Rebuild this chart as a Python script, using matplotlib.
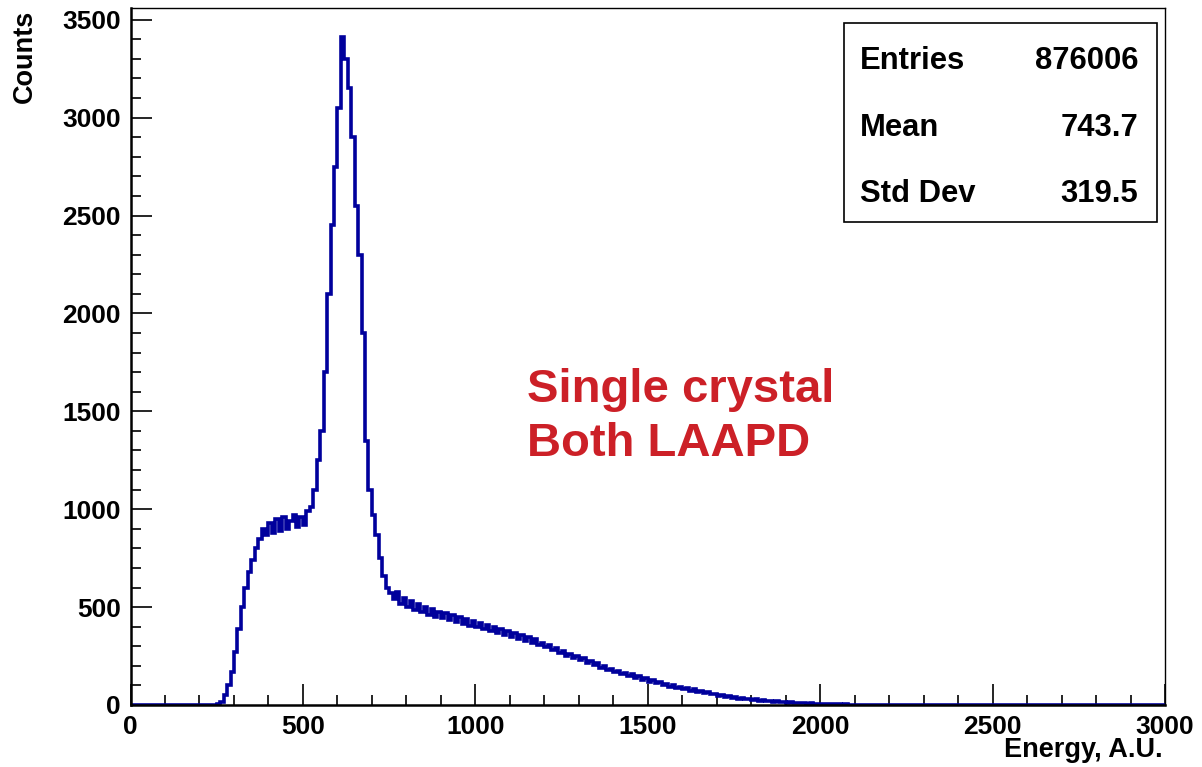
import matplotlib
matplotlib.use("Agg")
import matplotlib.pyplot as plt
import numpy as np
from matplotlib.ticker import MultipleLocator
from matplotlib.patches import Rectangle

plt.rcParams['font.family'] = ['Liberation Sans', 'DejaVu Sans']
plt.rcParams['font.weight'] = 'bold'

# ---------------- data ----------------
x_min, x_max, bin_width = 0, 3000, 10
counts = [
    0, 0, 0, 0, 0, 0, 0, 0, 0, 0,                       # 0-90
    0, 0, 0, 0, 0, 0, 0, 0, 0, 0,                       # 100-190
    0, 0, 0, 0, 1, 3, 15, 50, 100, 170,                 # 200-290
    270, 390, 500, 600, 680, 740, 800, 850, 900, 870,   # 300-390
    930, 880, 950, 890, 960, 900, 940, 970, 910, 960,   # 400-490
    920, 990, 1010, 1100, 1250, 1400, 1700, 2100, 2450, 2750,  # 500-590
    3050, 3410, 3300, 3150, 2900, 2550, 2300, 1900, 1350, 1100,  # 600-690
    970, 870, 750, 660, 600, 570, 540, 575, 515, 545,   # 700-790
    500, 530, 485, 515, 475, 500, 460, 490, 450, 475,   # 800-890
    445, 468, 432, 458, 422, 448, 412, 438, 402, 428,   # 900-990
    398, 418, 388, 408, 378, 398, 368, 388, 358, 378,   # 1000-1090
    348, 368, 338, 358, 328, 345, 318, 335, 308, 318,   # 1100-1190
    295, 305, 280, 290, 265, 278, 252, 262, 240, 250,   # 1200-1290
    228, 238, 215, 225, 202, 212, 190, 200, 180, 186,   # 1300-1390
    168, 176, 158, 164, 148, 156, 140, 146, 130, 136,   # 1400-1490
    120, 126, 112, 118, 102, 108, 94, 100, 88, 92,      # 1500-1590
    82, 86, 74, 80, 68, 72, 60, 66, 54, 58,             # 1600-1690
    48, 53, 42, 47, 38, 42, 33, 37, 29, 32,             # 1700-1790
    26, 29, 22, 25, 18, 21, 15, 18, 13, 14,             # 1800-1890
    11, 13, 9, 11, 8, 9, 6, 8, 5, 6,                    # 1900-1990
    4, 5, 3, 4, 3, 3, 2, 3, 2, 2,                       # 2000-2090
    2, 1, 2, 1, 1, 2, 1, 1, 1, 2,                       # 2100-2190
    1, 1, 1, 1, 2, 1, 1, 1, 1, 1,                       # 2200-2290
    1, 1, 1, 1, 1, 1, 2, 1, 1, 1,                       # 2300-2390
    1, 1, 1, 1, 1, 1, 1, 1, 1, 1,                       # 2400-2490
    1, 1, 1, 1, 1, 1, 1, 1, 1, 1,                       # 2500-2590
    1, 1, 1, 1, 1, 1, 1, 1, 1, 1,                       # 2600-2690
    1, 1, 1, 1, 1, 1, 1, 1, 1, 1,                       # 2700-2790
    1, 1, 1, 1, 1, 1, 1, 1, 1, 1,                       # 2800-2890
    1, 1, 1, 1, 1, 1, 1, 1, 1, 1,                       # 2900-2990
]
y_max = 3560
x_ticks = [0, 500, 1000, 1500, 2000, 2500, 3000]
y_ticks = [0, 500, 1000, 1500, 2000, 2500, 3000, 3500]
x_title = "Energy, A.U."
y_title = "Counts"
stats_names = ["Entries", "Mean", "Std Dev"]
stats_values = ["876006", "743.7", "319.5"]
annotation_lines = ["Single crystal", "Both LAAPD"]

# ---------------- figure ----------------
W, H = 1202, 767
fig = plt.figure(figsize=(W / 100, H / 100), dpi=100)
fig.patch.set_facecolor("white")

ax_l, ax_r, ax_b, ax_t = 130.5, 1165.0, 705.0, 8.0
ax = fig.add_axes([ax_l / W, 1 - ax_b / H, (ax_r - ax_l) / W, (ax_b - ax_t) / H])

edges = np.arange(x_min, x_max + bin_width, bin_width)
ax.stairs(counts, edges, color="#00009c", linewidth=2.6, zorder=2)

ax.set_xlim(x_min, x_max)
ax.set_ylim(0, y_max)
ax.set_xticks(x_ticks)
ax.set_yticks(y_ticks)
ax.xaxis.set_minor_locator(MultipleLocator(100))
ax.yaxis.set_minor_locator(MultipleLocator(100))
ax.tick_params(which="major", direction="in", length=15, width=1.2,
               top=False, right=False, labelsize=19, pad=7, colors="black")
ax.tick_params(which="minor", direction="in", length=7.5, width=1.2,
               top=False, right=False)
for lab in ax.get_xticklabels() + ax.get_yticklabels():
    lab.set_fontweight("bold")
for s in ["left", "bottom"]:
    ax.spines[s].set_linewidth(1.8)
for s in ["top", "right"]:
    ax.spines[s].set_linewidth(1.0)

fig.text(1163 / W, 1 - 750 / H, x_title, ha="right", va="center",
         fontsize=19.5, fontweight="bold")
fig.text(25 / W, 1 - 10 / H, y_title, ha="center", va="top", rotation=90,
         fontsize=19.5, fontweight="bold")

# stats box
bx0, bx1, by0, by1 = 844, 1157, 23, 222
fig.add_artist(Rectangle((bx0 / W, 1 - by1 / H), (bx1 - bx0) / W, (by1 - by0) / H,
                         transform=fig.transFigure, facecolor="white",
                         edgecolor="black", linewidth=1.2, zorder=5))
baselines = [69, 136, 202]
for name, val, yb in zip(stats_names, stats_values, baselines):
    fig.text(860 / W, 1 - yb / H, name, ha="left", va="baseline",
             fontsize=22.3, fontweight="bold", zorder=6)
    fig.text(1138 / W, 1 - yb / H, val, ha="right", va="baseline",
             fontsize=22.3, fontweight="bold", zorder=6)

# red annotation
for line, yb in zip(annotation_lines, [402, 456]):
    fig.text(527 / W, 1 - yb / H, line, ha="left", va="baseline",
             fontsize=34, fontweight="bold", color="#cc2027")

fig.savefig("out.png", dpi=100, facecolor="white")
